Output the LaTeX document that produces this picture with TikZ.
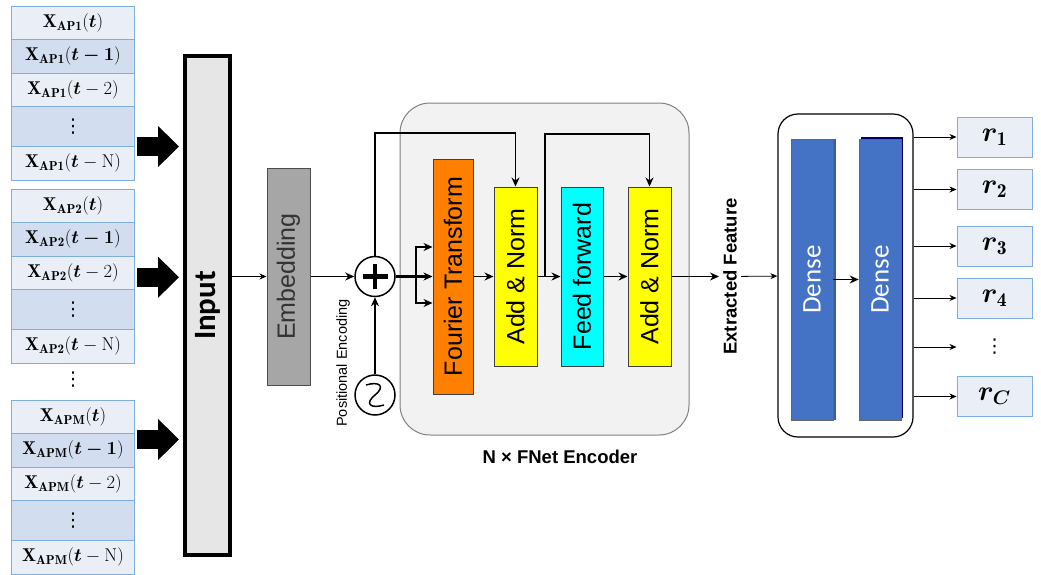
\RequirePackage{fix-cm}
\documentclass[tikz,border=0pt]{standalone}
\usepackage{fontspec}
\usepackage{bm}
\usetikzlibrary{arrows.meta, positioning, shadows}
\newfontfamily\arialfont{Liberation Sans}
\newfontfamily\calibrifont{Carlito}
\newfontfamily\symfont{DejaVu Sans}
\definecolor{celllight}{HTML}{E9EEF7}
\definecolor{celldark}{HTML}{D2DEEF}
\definecolor{cellborder}{HTML}{7EAEE0}
\definecolor{inputgray}{HTML}{E7E6E6}
\definecolor{embedgray}{HTML}{A6A6A6}
\definecolor{encodergray}{HTML}{F2F2F2}
\definecolor{fourierorange}{HTML}{FF8000}
\definecolor{normyellow}{HTML}{FFFF00}
\definecolor{ffcyan}{HTML}{00FFFF}
\definecolor{denseblue}{HTML}{4472C4}
\tikzstyle{arrow} = [-{Stealth[length=9pt, width=8pt]}, line width=1.3pt]
\tikzstyle{thinarrow} = [-{Stealth[length=7pt, width=6pt]}, line width=0.8pt]

\begin{document}
\begin{tikzpicture}[x=1pt, y=-1pt,
    cell/.style={rectangle, draw=cellborder, line width=1pt, fill=celllight, minimum width=123, minimum height=33.5, inner sep=0, outer sep=0, font=\fontsize{18.5}{20}\selectfont},
    vdots/.style={font=\symfont\fontsize{19}{19}\selectfont},
    blockarrow/.style={line width=19pt, -{Triangle[length=21pt, width=40pt]}, shorten <=2pt, shorten >=4pt},
    inputbox/.style={rectangle, draw=black, line width=4pt, fill=inputgray, minimum width=45, minimum height=499, font=\calibrifont\bfseries\fontsize{31}{31}\selectfont},
    layer/.style={rectangle, draw=black!75, line width=1pt, minimum width=43, minimum height=179, inner sep=0, font=\arialfont\fontsize{25}{25}\selectfont},
    circ/.style={circle, draw, line width=1.5pt, minimum size=40, inner sep=0},
    dense/.style={rectangle, draw=black!60, line width=0.6pt, fill=denseblue, minimum width=42, minimum height=281, inner sep=0, text=white, font=\calibrifont\fontsize{27}{27}\selectfont},
    outbox/.style={rectangle, draw=cellborder, line width=1pt, fill=celllight, minimum width=75, minimum height=40, font=\fontsize{28}{28}\selectfont}]

\useasboundingbox (0,0) rectangle (1041,574);

% Input sequences
\foreach \ap/\ytop/\nm in {AP1/6/a, AP2/189/b, APM/400/c} {
  \node[cell, anchor=north] (\nm1) at (73,\ytop) {$\mathbf{X}_{\mathbf{\ap}}(\bm{t})$};
  \node[cell, fill=celldark, below=0pt of \nm1] (\nm2) {$\mathbf{X}_{\mathbf{\ap}}(\bm{t-1})$};
  \node[cell, below=0pt of \nm2] (\nm3) {$\mathbf{X}_{\mathbf{\ap}}(\bm{t}-2)$};
  \node[cell, vdots, fill=celldark, minimum height=40, below=0pt of \nm3] (\nm4) {⋮};
  \node[cell, below=0pt of \nm4] (\nm5) {$\mathbf{X}_{\mathbf{\ap}}(\bm{t}-\mathrm{N})$};
}
\node[vdots] (stackdots) at (73,380) {⋮};

% Input and embedding
\node[inputbox] (input) at (207.5,305.5) {\rotatebox{90}{Input}};
\node[layer, fill=embedgray, draw=black!70, minimum height=217, text=black!80] (embed) at (288.5,276.5) {\rotatebox{90}{Embedding}};

\draw[blockarrow] (a4.south east) -- (a4.south east -| input.west);
\draw[blockarrow] ([yshift=-4.5pt]b3.east) -- ([yshift=-4.5pt]b3.east -| input.west);
\draw[blockarrow] ([yshift=-6pt]c1.south east) -- ([yshift=-6pt]c1.south east -| input.west);
\draw[thinarrow] (input.east |- embed) -- (embed);

% Positional encoding
\node[circ] (plus) at (375,276.5) {};
\draw[line width=4.5pt] ([xshift=-12.5pt]plus.center) -- ([xshift=12.5pt]plus.center);
\draw[line width=4.5pt] ([yshift=-12.5pt]plus.center) -- ([yshift=12.5pt]plus.center);
\node[circ] (sine) at (375,395) {};
\draw[line width=1.5pt, shift={(sine.center)}] (-9,-10) .. controls (4,-14) and (11,-9) .. (0,0)
  .. controls (-11,9) and (-4,14) .. (9,10);
\node[font=\arialfont\fontsize{14.5}{14.5}\selectfont, inner sep=0] (poslabel) at (343,363) {\rotatebox{90}{Positional Encoding}};

% FNet encoder
\node[rectangle, rounded corners=30, draw=black!50, line width=1pt, fill=encodergray, minimum width=289, minimum height=332] (encoder) at (544.5,269) {};
\node[font=\arialfont\bfseries\fontsize{18.5}{18.5}\selectfont] (encoderlabel) at (560,457) {N × FNet Encoder};
\node[layer, fill=fourierorange, minimum width=40, minimum height=235] (fourier) at (453,276.5) {\rotatebox{90}{Fourier Transform}};
\node[layer, fill=normyellow] (addnorm1) at (515.5,276.5) {\rotatebox{90}{Add \& Norm}};
\node[layer, fill=ffcyan, minimum width=42] (feedfwd) at (582,276.5) {\rotatebox{90}{Feed forward}};
\node[layer, fill=normyellow] (addnorm2) at (649.5,276.5) {\rotatebox{90}{Add \& Norm}};

\draw[arrow] (embed) -- (plus);
\draw[arrow] (sine) -- (plus);
\draw[arrow, line width=2.2pt] (plus) -- (fourier);
\coordinate (split1) at (416,276.5);
\draw[arrow] (split1) |- ([yshift=29.5pt]fourier.west);
\draw[arrow] (split1) |- ([yshift=-26.5pt]fourier.west);
\draw[arrow] (plus.north) -- (plus.north |- 0,133) -| (addnorm1.north);
\draw[arrow] (fourier) -- (addnorm1);
\draw[arrow] (addnorm1) -- (feedfwd);
\coordinate (split2) at (545,276.5);
\draw[arrow] (split2) -- (split2 |- 0,134) -| (addnorm2.north);
\draw[arrow] (feedfwd) -- (addnorm2);

% Classification head
\node[font=\arialfont\bfseries\fontsize{18.5}{18.5}\selectfont, inner sep=4pt] (feature) at (730,276.5) {\rotatebox{90}{Extracted Feature}};
\draw[arrow] (addnorm2) -- (feature);
\node[rectangle, rounded corners=20, draw=black, line width=1.2pt, fill=white, minimum width=135, minimum height=323] (denseblock) at (845.5,275.5) {};
\node[dense, general shadow={fill=cyan!40!blue!70!black, shadow xshift=2.5pt, shadow yshift=0pt}] (dense1) at (812,279.5) {\rotatebox{90}{Dense}};
\node[dense, general shadow={fill=blue!40!black, shadow xshift=2pt, shadow yshift=2pt}] (dense2) at (880,279.5) {\rotatebox{90}{Dense}};
\draw[thinarrow] (feature) -- (denseblock);
\draw[arrow, line width=1.6pt] (dense1) -- (dense2);

% Outputs
\node[outbox] (r1) at (994.5,137) {$\bm{r}_{\mathbf{1}}$};
\node[outbox] (r2) at (994.5,189.5) {$\bm{r}_{\mathbf{2}}$};
\node[outbox] (r3) at (994.5,246) {$\bm{r}_{\mathbf{3}}$};
\node[outbox] (r4) at (994.5,298) {$\bm{r}_{\mathbf{4}}$};
\node[outbox, vdots, draw=none, fill=none] (rdots) at (994.5,347) {⋮};
\node[outbox] (rc) at (994.5,396.5) {$\bm{r}_{\bm{C}}$};
\foreach \r in {r1, r2, r3, r4, rdots, rc}
  \draw[thinarrow] (denseblock.east |- \r) -- (\r);

\end{tikzpicture}
\end{document}
